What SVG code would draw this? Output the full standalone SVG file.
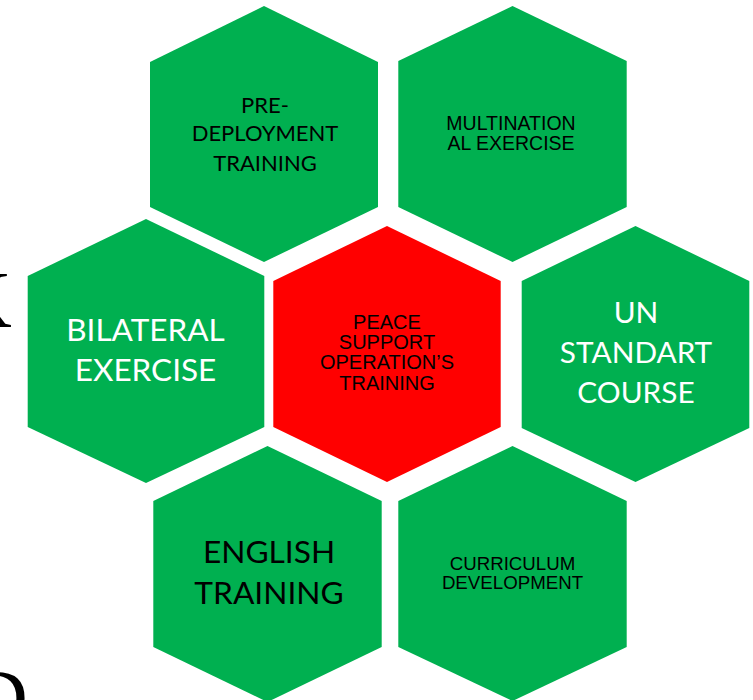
<svg xmlns="http://www.w3.org/2000/svg" width="753" height="700" viewBox="0 0 753 700">
<style>
.g{fill:#00B050}
.r{fill:#FF0000}
.c{font-family:Lato,"Open Sans","Noto Sans",sans-serif;text-anchor:middle}
.a{font-family:"Liberation Sans",Arial,sans-serif;text-anchor:middle;fill:#000}
.bg{font-family:"Liberation Serif","Times New Roman",serif;fill:#000}
</style>
<rect width="753" height="700" fill="#fff"/>
<g id="background-fragments">
<text class="bg" x="-46" y="327" font-size="80">K</text>
<text class="bg" x="-30" y="725" font-size="80">D</text>
</g>
<g id="connectors"></g>
<g id="pre-deployment">
<polygon class="g" points="264,6 378,62 378,207 264,262 150,207 150,62"/>
<text class="c" font-size="22" fill="#000"><tspan x="265" y="112.5">PRE-</tspan><tspan x="265" y="141">DEPLOYMENT</tspan><tspan x="265" y="170.5">TRAINING</tspan></text>
</g>
<g id="multinational">
<polygon class="g" points="512.5,6 626.7,61 626.7,207 512.5,262 398.3,207 398.3,61"/>
<text class="a" font-size="19.5"><tspan x="511" y="130">MULTINATION</tspan><tspan x="511" y="150">AL EXERCISE</tspan></text>
</g>
<g id="bilateral">
<polygon class="g" points="146,219 264.3,276 264.3,427 146,483 27.7,427 27.7,276"/>
<text class="c" font-size="31.5" fill="#fff"><tspan x="145.5" y="341">BILATERAL</tspan><tspan x="145.5" y="380.7">EXERCISE</tspan></text>
</g>
<g id="peace-support">
<polygon class="r" points="387,226 500.7,281 500.7,427 387,482 273.3,427 273.3,281"/>
<text class="a" font-size="20"><tspan x="387" y="329">PEACE</tspan><tspan x="387" y="349">SUPPORT</tspan><tspan x="387" y="369.3">OPERATION’S</tspan><tspan x="387" y="390">TRAINING</tspan></text>
</g>
<g id="un-standart">
<polygon class="g" points="635.5,226 749.3,281 749.3,428 635.5,482 521.7,428 521.7,281"/>
<text class="c" font-size="29.8" fill="#fff"><tspan x="636" y="323.3">UN</tspan><tspan x="636" y="363.3">STANDART</tspan><tspan x="636" y="402.7">COURSE</tspan></text>
</g>
<g id="english">
<polygon class="g" points="267.5,446 381.7,501 381.7,647 267.5,702 153.3,647 153.3,501"/>
<text class="c" font-size="31.7" fill="#000"><tspan x="269" y="563.3">ENGLISH</tspan><tspan x="269" y="604">TRAINING</tspan></text>
</g>
<g id="curriculum">
<polygon class="g" points="512.5,446 626.7,501 626.7,647 512.5,701 398.3,647 398.3,501"/>
<text class="a" font-size="18.7"><tspan x="512.5" y="570">CURRICULUM</tspan><tspan x="512.5" y="589">DEVELOPMENT</tspan></text>
</g>
</svg>
